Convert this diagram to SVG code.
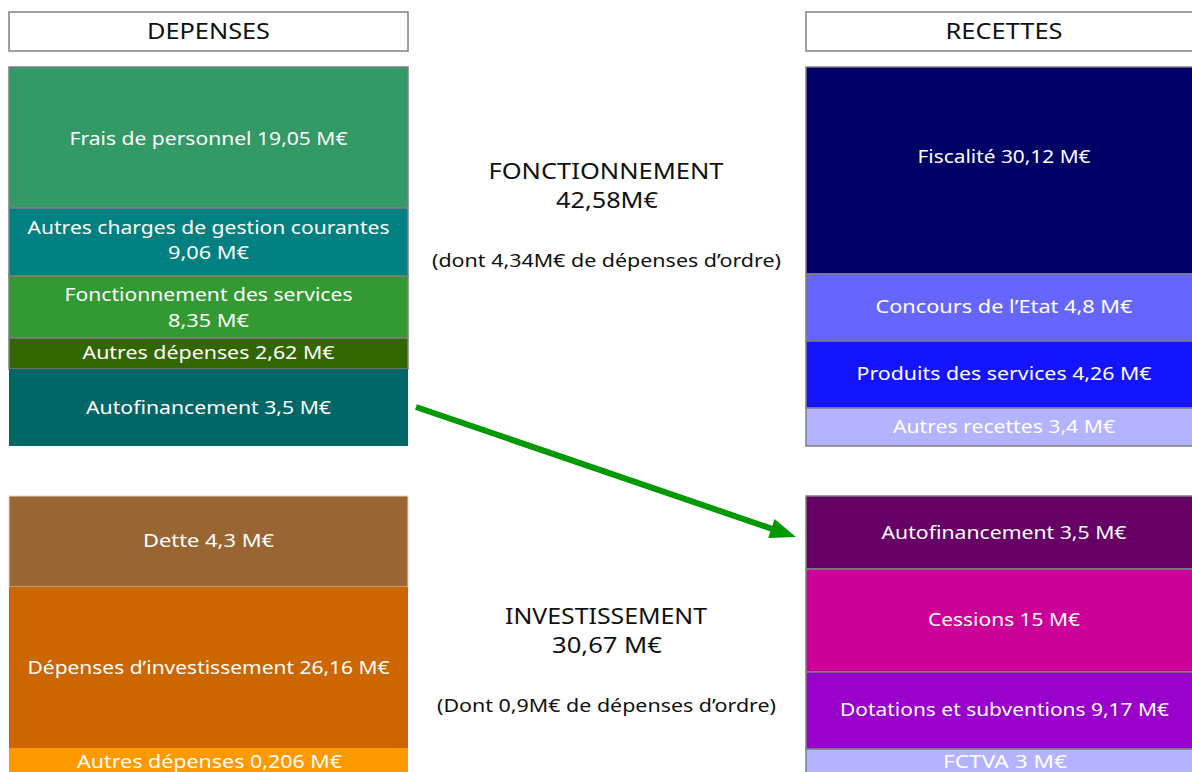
<svg xmlns="http://www.w3.org/2000/svg" width="1192" height="772" viewBox="0 0 1192 772">
<defs>
<style>
.hdr{fill:#fff;stroke:#808080;stroke-width:1.5}
.blk{stroke:#7f7f7f;stroke-width:1.5}
text{font-family:"Noto Sans","Liberation Sans",sans-serif;text-anchor:middle}
.t{font-size:18px;fill:#fff}
.k{font-size:21px;fill:#111}
.m{font-size:18px;fill:#111}
</style>
</defs>
<rect width="1192" height="772" fill="#fff"/>

<g id="hdr-depenses"><rect class="hdr" x="9" y="12" width="399" height="39"/><text class="k" x="208.5" y="39" textLength="123" lengthAdjust="spacingAndGlyphs">DEPENSES</text></g>
<g id="hdr-recettes"><rect class="hdr" x="806" y="12" width="397" height="39"/><text class="k" x="1004" y="39" textLength="117" lengthAdjust="spacingAndGlyphs">RECETTES</text></g>

<g id="frais"><rect class="blk" x="9" y="67" width="399" height="141" fill="#339966"/><text class="t" x="208.5" y="145" textLength="278" lengthAdjust="spacingAndGlyphs">Frais de personnel 19,05 M€</text></g>
<g id="autres-charges"><rect class="blk" x="9" y="208" width="399" height="68" fill="#008080"/><text class="t" x="208.5" y="234" textLength="362" lengthAdjust="spacingAndGlyphs">Autres charges de gestion courantes</text><text class="t" x="208.5" y="259" textLength="81" lengthAdjust="spacingAndGlyphs">9,06 M€</text></g>
<g id="fonct-services"><rect class="blk" x="9" y="276" width="399" height="62" fill="#339933"/><text class="t" x="208.5" y="301" textLength="288" lengthAdjust="spacingAndGlyphs">Fonctionnement des services</text><text class="t" x="208.5" y="327" textLength="81" lengthAdjust="spacingAndGlyphs">8,35 M€</text></g>
<g id="autres-dep-f"><rect class="blk" x="9" y="338" width="399" height="31" fill="#336600"/><text class="t" x="208.5" y="359" textLength="252" lengthAdjust="spacingAndGlyphs">Autres dépenses 2,62 M€</text></g>
<g id="autofin-dep"><rect x="9" y="369" width="399" height="77" fill="#006666"/><text class="t" x="208.5" y="414" textLength="245" lengthAdjust="spacingAndGlyphs">Autofinancement 3,5 M€</text></g>

<g id="fiscalite"><rect class="blk" x="806" y="67" width="397" height="207" fill="#000066"/><text class="t" x="1004" y="163" textLength="173" lengthAdjust="spacingAndGlyphs">Fiscalité 30,12 M€</text></g>
<g id="concours"><rect class="blk" x="806" y="274" width="397" height="67" fill="#6666ff"/><text class="t" x="1004" y="313" textLength="257" lengthAdjust="spacingAndGlyphs">Concours de l’Etat 4,8 M€</text></g>
<g id="produits"><rect class="blk" x="806" y="341" width="397" height="67" fill="#1414ff"/><text class="t" x="1004" y="380" textLength="295" lengthAdjust="spacingAndGlyphs">Produits des services 4,26 M€</text></g>
<g id="autres-rec"><rect class="blk" x="806" y="408" width="397" height="38" fill="#b3b3ff"/><text class="t" x="1004" y="433" textLength="222" lengthAdjust="spacingAndGlyphs">Autres recettes 3,4 M€</text></g>

<g id="fonctionnement-label"><text class="k" x="606" y="179" textLength="235" lengthAdjust="spacingAndGlyphs">FONCTIONNEMENT</text><text class="k" x="607" y="208" textLength="102" lengthAdjust="spacingAndGlyphs">42,58M€</text><text class="m" x="606.5" y="267" textLength="349" lengthAdjust="spacingAndGlyphs">(dont 4,34M€ de dépenses d’ordre)</text></g>

<g id="dette"><rect x="9" y="496" width="399" height="91" fill="#996633" stroke="#e8d8c8" stroke-width="1"/><text class="t" x="208.5" y="547" textLength="131" lengthAdjust="spacingAndGlyphs">Dette 4,3 M€</text></g>
<g id="dep-inv"><rect x="9" y="587" width="399" height="161" fill="#cc6600"/><text class="t" x="208.5" y="674" textLength="362" lengthAdjust="spacingAndGlyphs">Dépenses d’investissement 26,16 M€</text></g>
<g id="autres-dep-i"><rect x="9" y="748" width="399" height="30" fill="#ff9900"/><text class="t" x="209.5" y="768" textLength="265" lengthAdjust="spacingAndGlyphs">Autres dépenses 0,206 M€</text></g>

<g id="autofin-rec"><rect class="blk" x="806" y="496" width="397" height="73" fill="#660066"/><text class="t" x="1004" y="539" textLength="245" lengthAdjust="spacingAndGlyphs">Autofinancement 3,5 M€</text></g>
<g id="cessions"><rect class="blk" x="806" y="569" width="397" height="103" fill="#cc0099"/><text class="t" x="1004" y="626" textLength="152" lengthAdjust="spacingAndGlyphs">Cessions 15 M€</text></g>
<g id="dotations"><rect class="blk" x="806" y="672" width="397" height="77" fill="#9900cc"/><text class="t" x="1004.5" y="716" textLength="329" lengthAdjust="spacingAndGlyphs">Dotations et subventions 9,17 M€</text></g>
<g id="fctva"><rect class="blk" x="806" y="749" width="397" height="30" fill="#b3b3ff"/><text class="t" x="1005" y="768" textLength="124" lengthAdjust="spacingAndGlyphs">FCTVA 3 M€</text></g>

<g id="investissement-label"><text class="k" x="606" y="624" textLength="202" lengthAdjust="spacingAndGlyphs">INVESTISSEMENT</text><text class="k" x="607" y="653" textLength="110" lengthAdjust="spacingAndGlyphs">30,67 M€</text><text class="m" x="606.5" y="712" textLength="339" lengthAdjust="spacingAndGlyphs">(Dont 0,9M€ de dépenses d’ordre)</text></g>

<g id="connectors">
<line x1="416" y1="407" x2="772" y2="528.8" stroke="#009900" stroke-width="6"/>
<polygon points="796,537 768.2,538.1 774.6,519.1" fill="#009900"/>
</g>
</svg>
